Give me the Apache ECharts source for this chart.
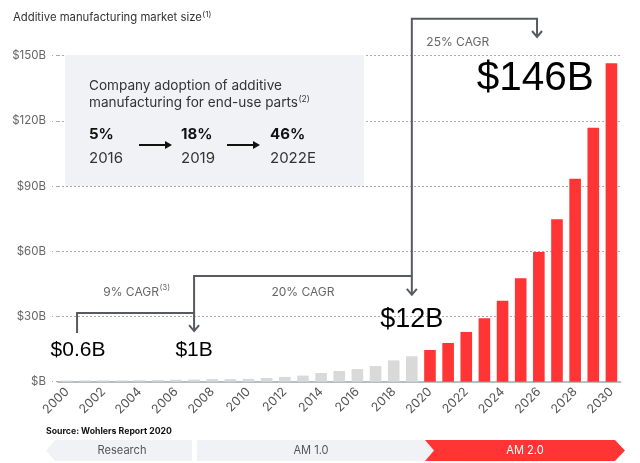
<!DOCTYPE html>
<html><head><meta charset="utf-8">
<script src="https://cdn.jsdelivr.net/npm/echarts@6/dist/echarts.min.js"></script>
<style>html,body{margin:0;padding:0;background:#fff}#c{width:640px;height:463px}</style>
</head><body><div id="c"></div>
<script>
const years = ['2000','2001','2002','2003','2004','2005','2006','2007','2008','2009','2010','2011','2012','2013','2014','2015','2016','2017','2018','2019','2020','2021','2022','2023','2024','2025','2026','2027','2028','2029','2030'];
const historical = [0.5,0.6,0.6,0.6,0.7,0.8,0.9,1.0,1.2,1.2,1.3,1.7,2.2,2.8,4.0,4.9,5.8,7.2,9.8,11.7,null,null,null,null,null,null,null,null,null,null,null];
const forecast = [null,null,null,null,null,null,null,null,null,null,null,null,null,null,null,null,null,null,null,null,14.6,17.8,22.9,29.2,37.3,47.6,59.7,74.7,93.4,116.9,146.5];
const yTicks = [0,30,60,90,120,150];
const titleText = 'Additive manufacturing market size';
const adoptionPct = ['5%','18%','46%'];
const adoptionYear = ['2016','2019','2022E'];
const cagrLabels = ['9% CAGR', '20% CAGR', '25% CAGR'];
const milestoneLabels = ['$0.6B', '$1B', '$12B', '$146B'];
const phases = ['Research', 'AM 1.0', 'AM 2.0'];

const RED = '#ff3535', GRAY = '#d9d9d9', LINE = '#575b61';
const chart = echarts.init(document.getElementById('c'), null, {renderer: 'canvas'});
const FONT = 'Inter, "Noto Sans", sans-serif';
const BIG = '"Liberation Sans", Arial, sans-serif';

const ctx = document.createElement('canvas').getContext('2d');
function tw(text, font) { ctx.font = font; return ctx.measureText(text).width; }
function fit(text, target, weight) {
  const w = tw(text, (weight || 'normal') + ' 20px ' + FONT);
  return 20 * target / w;
}

chart.setOption({
  animation: false,
  grid: {left: 58, right: 19.5, top: 55.7, bottom: 81.3, containLabel: false},
  xAxis: {
    type: 'category', data: years,
    axisLine: {lineStyle: {color: '#b9bcc3', width: 2}},
    axisTick: {show: false},
    axisLabel: {interval: 1, rotate: 45, color: '#555', fontSize: 12.5, fontFamily: FONT, margin: 8}
  },
  yAxis: {
    type: 'value', min: 0, max: 150, interval: 30,
    axisLine: {show: false},
    axisTick: {show: true, length: 6, lineStyle: {color: '#aaa', type: [2, 3]}},
    axisLabel: {color: '#666', fontSize: 11.5, fontFamily: FONT, margin: 12,
      formatter: v => '$' + (v === 0 ? '' : v) + 'B'},
    splitLine: {lineStyle: {color: '#aaa', type: [2, 2], width: 1}}
  },
  series: [
    {type: 'bar', stack: 't', data: historical, itemStyle: {color: GRAY}, barCategoryGap: '36%'},
    {type: 'bar', stack: 't', data: forecast, itemStyle: {color: RED}, barCategoryGap: '36%'}
  ]
});

function px(i, v) {
  const a = chart.convertToPixel({xAxisIndex: 0, yAxisIndex: 0}, [0, v]);
  const b = chart.convertToPixel({xAxisIndex: 0, yAxisIndex: 0}, [1, v]);
  return [a[0] + i * (b[0] - a[0]), a[1]];
}

const g = [];
g.push({type: 'rect', shape: {x: 65, y: 55, width: 299, height: 131}, style: {fill: '#f1f2f6'}, z: 10});
function txt(x, y, text, size, opts) {
  opts = opts || {};
  g.push({type: 'text', x: x, y: y, z: 20, style: {text: text, fontSize: size, fontFamily: opts.family || FONT,
    fontWeight: opts.weight || 'normal', fill: opts.color || '#333', align: opts.align || 'left', verticalAlign: 'middle'}});
}
function sup(x, y, base, baseSize, s, family) {
  const w = tw(base, baseSize + 'px ' + (family || FONT));
  txt(x + w + 0.5, y - baseSize * 0.28, s, Math.max(8, baseSize * 0.62), {color: '#333'});
}
// title
const tSize = fit(titleText, 189);
txt(13, 18, titleText, tSize, {color: '#333'});
sup(13, 18, titleText, tSize, '(1)');
// inset text
const bSize = fit('Company adoption of additive', 193);
txt(89, 86, 'Company adoption of additive', bSize, {color: '#333'});
txt(89, 103, 'manufacturing for end-use parts', bSize, {color: '#333'});
sup(89, 103, 'manufacturing for end-use parts', bSize, '(2)');
const colX = [89, 181, 270];
for (let k = 0; k < 3; k++) {
  txt(colX[k], 134, adoptionPct[k], 15, {weight: 'bold', color: '#111'});
  txt(colX[k], 158, adoptionYear[k], 15, {color: '#333'});
}
[[139, 172], [227, 260]].forEach(a => {
  g.push({type: 'line', z: 20, shape: {x1: a[0], y1: 145, x2: a[1] - 5, y2: 145}, style: {stroke: '#111', lineWidth: 2}});
  g.push({type: 'polygon', z: 20, shape: {points: [[a[1] - 7, 141], [a[1], 145], [a[1] - 7, 149]]}, style: {fill: '#111'}});
});

const brackets = [
  {x1: 0.55, x2: 7, start: 22.4, top: 31.6, end: 23.3},
  {x1: 7, x2: 19, start: 31.6, top: 48.6, end: 40.0},
  {x1: 19, x2: 25.9, start: 48.6, top: 167.0, end: 158.6}
];
brackets.forEach(b => {
  const p1 = px(b.x1, b.start), p2 = px(b.x1, b.top), p3 = px(b.x2, b.top), p4 = px(b.x2, b.end);
  g.push({type: 'polyline', z: 15, shape: {points: [p1, p2, p3, p4]}, style: {stroke: LINE, lineWidth: 2, fill: null}});
  g.push({type: 'polyline', z: 15, shape: {points: [[p4[0] - 5, p4[1] - 6], p4, [p4[0] + 5, p4[1] - 6]]}, style: {stroke: LINE, lineWidth: 2, fill: null}});
});
let p = px(3.86, 41.3);
txt(p[0] - 6, p[1], cagrLabels[0], 12, {color: '#666', align: 'center'});
const w9 = tw(cagrLabels[0], '12px ' + FONT);
g.push({type: 'text', x: p[0] - 6 + w9 / 2 + 0.5, y: p[1] - 4, z: 20, style: {text: '(3)', fontSize: 8, fontFamily: FONT, fill: '#666', verticalAlign: 'middle'}});
p = px(13.0, 41.3); txt(p[0], p[1], cagrLabels[1], 12, {color: '#666', align: 'center'});
p = px(19.8, 156); txt(p[0], p[1], cagrLabels[2], 12, {color: '#666'});
p = px(0.6, 14.6); txt(p[0], p[1], milestoneLabels[0], 21, {family: BIG, color: '#000', align: 'center'});
p = px(7.0, 14.6); txt(p[0], p[1], milestoneLabels[1], 21, {family: BIG, color: '#000', align: 'center'});
p = px(19.0, 28.4); txt(p[0], p[1], milestoneLabels[2], 27, {family: BIG, color: '#000', align: 'center'});
p = px(25.8, 139.5); txt(p[0], p[1], milestoneLabels[3], 40.5, {family: BIG, color: '#000', align: 'center'});

const srcText = 'Source: Wohlers Report 2020';
txt(46, 431, srcText, fit(srcText, 126, 'bold'), {weight: 'bold', color: '#111'});
g.push({type: 'polygon', z: 10, shape: {points: [[55, 440], [192, 440], [192, 461], [55, 461], [46, 450.5]]}, style: {fill: '#f1f2f6'}});
g.push({type: 'polygon', z: 10, shape: {points: [[197, 440], [425, 440], [434, 450.5], [425, 461], [197, 461]]}, style: {fill: '#f1f2f6'}});
g.push({type: 'polygon', z: 11, shape: {points: [[425, 440], [615, 440], [625, 450.5], [615, 461], [425, 461], [434, 450.5]]}, style: {fill: RED}});
const phSize = fit(phases[0], 49);
txt(122, 450.5, phases[0], phSize, {color: '#555', align: 'center'});
txt(311, 450.5, phases[1], phSize, {color: '#555', align: 'center'});
txt(525, 450.5, phases[2], phSize, {color: '#fff', align: 'center'});

chart.setOption({graphic: g});
</script></body></html>
